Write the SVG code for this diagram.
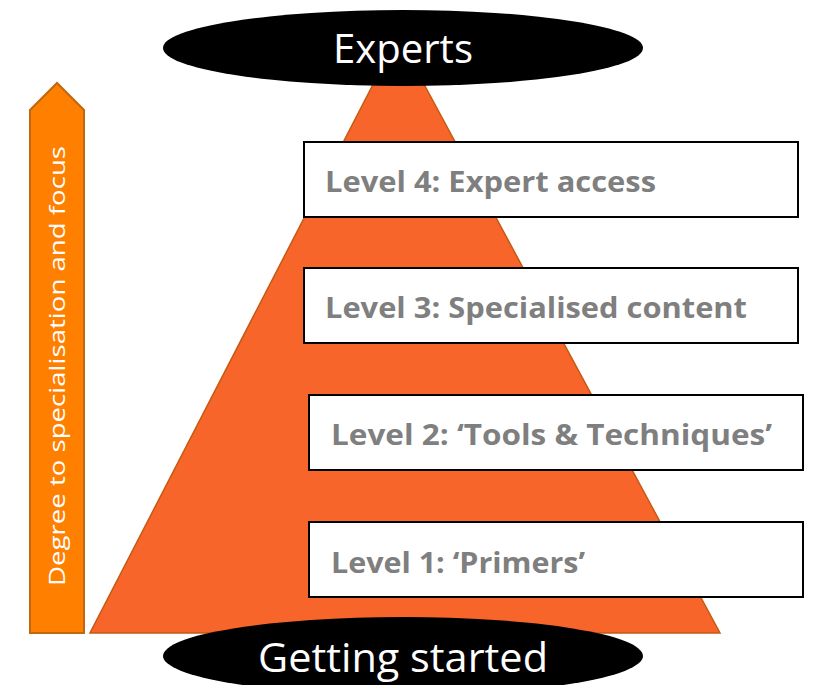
<svg xmlns="http://www.w3.org/2000/svg" width="815" height="685" viewBox="0 0 815 685">
<style>
.box{fill:#ffffff;stroke:#000000;stroke-width:2}
.lbl{font-family:"Open Sans","Liberation Sans",sans-serif;font-weight:bold;font-size:28px;fill:#7f7f7f}
.oval{fill:#000000}
.big{font-family:"Open Sans","Liberation Sans",sans-serif;font-size:40px;fill:#ffffff}
</style>
<rect width="815" height="685" fill="#ffffff"/>
<g id="pyramid">
<polygon points="398,36 720,633 90,633" fill="#f8652a" stroke="#c55a11" stroke-width="1.5"/>
</g>
<g id="arrow">
<polygon points="30,110 57,83 84,110 84,633 30,633" fill="#ff8000" stroke="#c0670f" stroke-width="2"/>
<text transform="translate(65,366) rotate(-90)" text-anchor="middle" font-family="'Open Sans','Liberation Sans',sans-serif" font-size="22" fill="#ffffff" textLength="440" lengthAdjust="spacingAndGlyphs">Degree to specialisation and focus</text>
</g>
<g id="experts">
<ellipse class="oval" cx="403" cy="48" rx="240" ry="38"/>
<text class="big" x="403" y="63" text-anchor="middle" textLength="140" lengthAdjust="spacingAndGlyphs">Experts</text>
</g>
<g id="level4">
<rect class="box" x="304" y="142" width="494" height="75"/>
<text class="lbl" x="325" y="192" textLength="331" lengthAdjust="spacingAndGlyphs">Level 4: Expert access</text>
</g>
<g id="level3">
<rect class="box" x="304" y="268" width="494" height="75"/>
<text class="lbl" x="325" y="318" textLength="422" lengthAdjust="spacingAndGlyphs">Level 3: Specialised content</text>
</g>
<g id="level2">
<rect class="box" x="309" y="395" width="494" height="75"/>
<text class="lbl" x="331" y="445" textLength="441" lengthAdjust="spacingAndGlyphs">Level 2: ‘Tools &amp; Techniques’</text>
</g>
<g id="level1">
<rect class="box" x="309" y="522" width="494" height="75"/>
<text class="lbl" x="331" y="573" textLength="254" lengthAdjust="spacingAndGlyphs">Level 1: ‘Primers’</text>
</g>
<g id="getting-started">
<ellipse class="oval" cx="403" cy="656" rx="240" ry="39"/>
<text class="big" x="403" y="672" text-anchor="middle" textLength="290" lengthAdjust="spacingAndGlyphs">Getting started</text>
</g>
<g id="connectors"></g>
</svg>
